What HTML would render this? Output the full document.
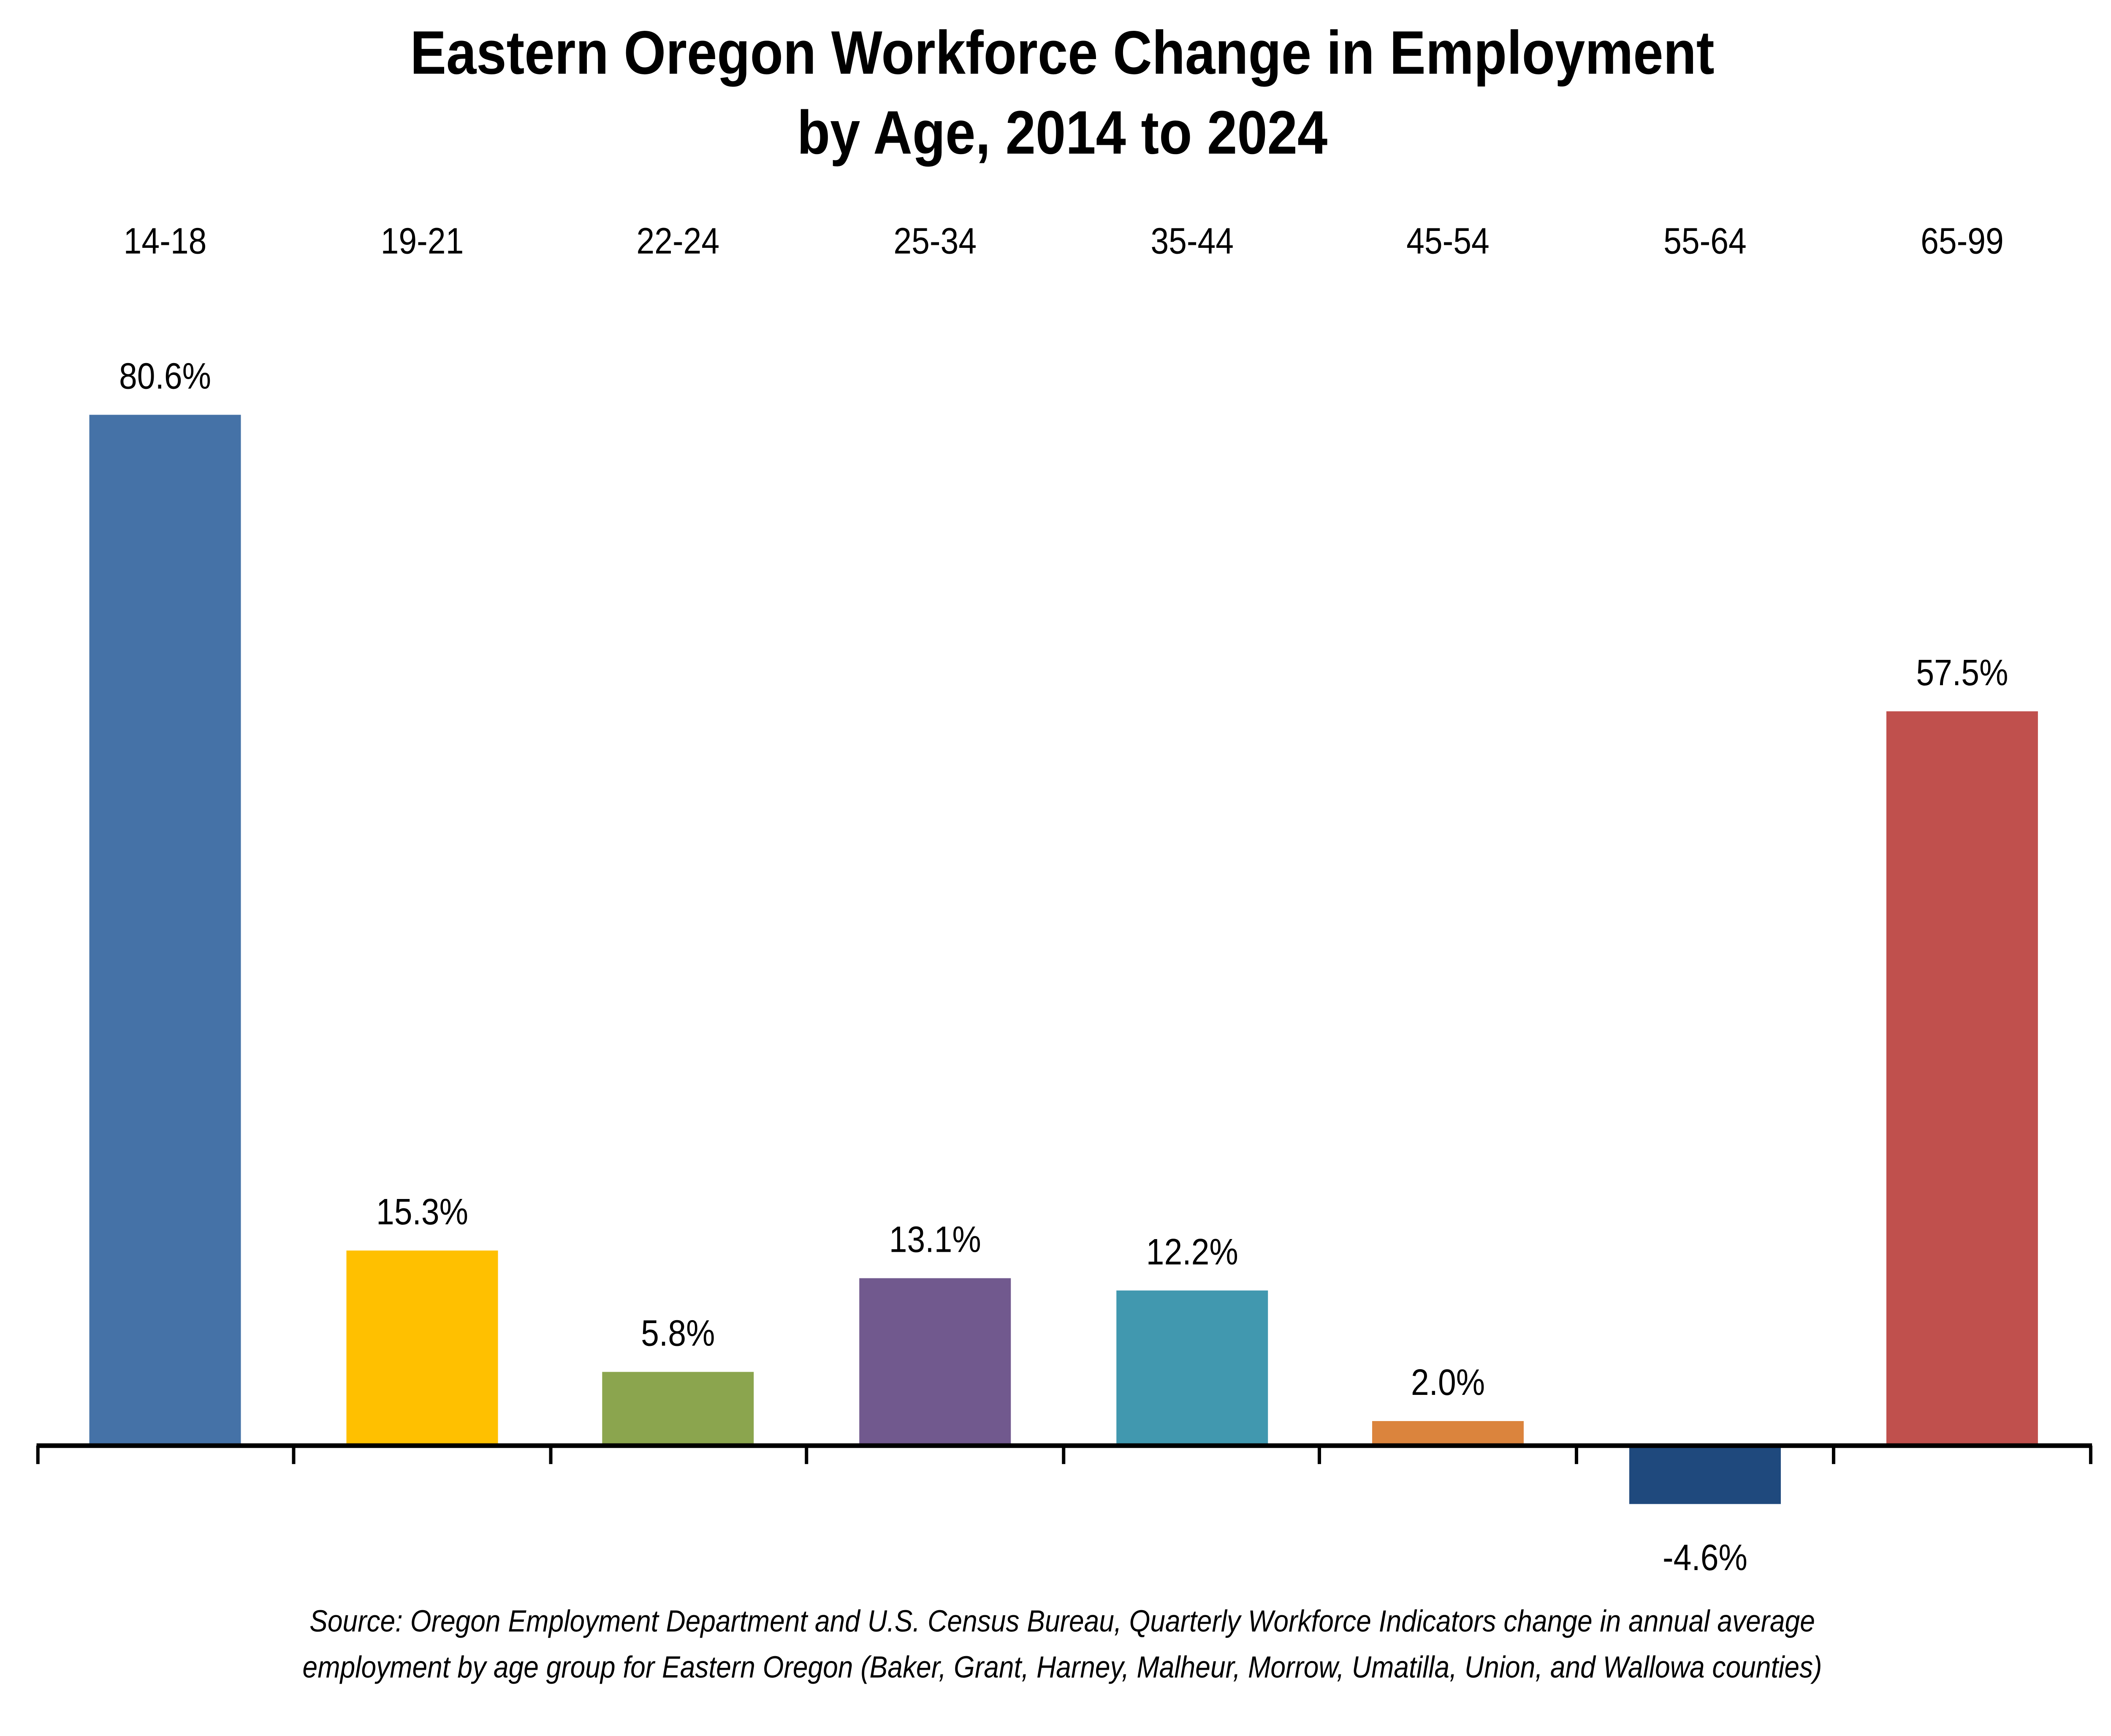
<!DOCTYPE html>
<html><head><meta charset="utf-8"><style>
html,body{margin:0;padding:0;background:#fff;width:100%;height:100%;overflow:hidden}
svg{display:block;position:fixed;left:0;top:0;width:100vw;height:100vh}
</style></head>
<body>
<svg viewBox="0 0 1560 1130" preserveAspectRatio="none" xmlns="http://www.w3.org/2000/svg" font-family="Liberation Sans, Arial, sans-serif">
<rect width="1560" height="1130" fill="#fff"/>
<g text-anchor="middle" font-weight="bold" font-size="40" fill="#000">
<text x="785" y="48">Eastern Oregon Workforce Change in Employment</text>
<text x="785" y="100">by Age, 2014 to 2024</text>
</g>
<g text-anchor="middle" font-size="24" fill="#000">
<text x="122" y="165">14-18</text><text x="312" y="165">19-21</text><text x="501" y="165">22-24</text><text x="691" y="165">25-34</text>
<text x="881" y="165">35-44</text><text x="1070" y="165">45-54</text><text x="1260" y="165">55-64</text><text x="1450" y="165">65-99</text>
</g>
<rect x="66" y="270" width="112" height="671" fill="#4572A7"/>
<rect x="256" y="814" width="112" height="127" fill="#FFC000"/>
<rect x="445" y="893" width="112" height="48" fill="#8BA54E"/>
<rect x="635" y="832" width="112" height="109" fill="#71598E"/>
<rect x="825" y="840" width="112" height="101" fill="#4198AF"/>
<rect x="1014" y="925" width="112" height="16" fill="#DB843D"/>
<rect x="1204" y="941" width="112" height="38" fill="#1F497D"/>
<rect x="1394" y="463" width="112" height="478" fill="#C0504D"/>
<g text-anchor="middle" font-size="24" fill="#000">
<text x="122" y="253">80.6%</text><text x="312" y="797">15.3%</text><text x="501" y="876">5.8%</text><text x="691" y="815">13.1%</text>
<text x="881" y="823">12.2%</text><text x="1070" y="908">2.0%</text><text x="1260" y="1022">-4.6%</text><text x="1450" y="446">57.5%</text>
</g>
<line x1="27" y1="941" x2="1546" y2="941" stroke="#000" stroke-width="3"/>
<g stroke="#000" stroke-width="2.5">
<line x1="28" y1="941" x2="28" y2="953"/><line x1="217" y1="941" x2="217" y2="953"/><line x1="407" y1="941" x2="407" y2="953"/>
<line x1="596" y1="941" x2="596" y2="953"/><line x1="786" y1="941" x2="786" y2="953"/><line x1="975" y1="941" x2="975" y2="953"/>
<line x1="1165" y1="941" x2="1165" y2="953"/><line x1="1355" y1="941" x2="1355" y2="953"/><line x1="1545" y1="941" x2="1545" y2="953"/>
</g>
<g text-anchor="middle" font-size="20" font-style="italic" fill="#000">
<text x="785" y="1062">Source: Oregon Employment Department and U.S. Census Bureau, Quarterly Workforce Indicators change in annual average</text>
<text x="785" y="1092">employment by age group for Eastern Oregon (Baker, Grant, Harney, Malheur, Morrow, Umatilla, Union, and Wallowa counties)</text>
</g>
</svg>
</body></html>
